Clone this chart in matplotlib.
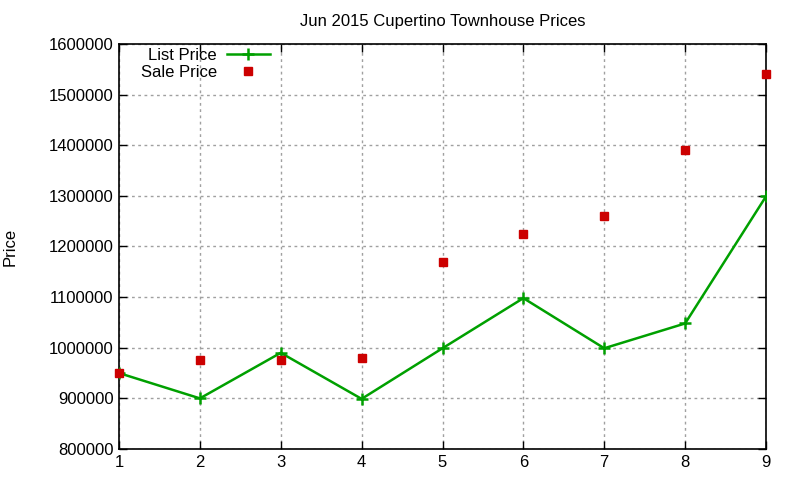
import matplotlib
matplotlib.use("Agg")
import matplotlib.pyplot as plt
from matplotlib.ticker import FixedLocator

months = [1, 2, 3, 4, 5, 6, 7, 8, 9]
list_price = [950000, 900000, 990000, 899000, 999000, 1098000, 999000, 1048000, 1299000]
sale_price = [950000, 975000, 975000, 980000, 1170000, 1225000, 1260000, 1390000, 1540000]
yticks = [800000, 900000, 1000000, 1100000, 1200000, 1300000, 1400000, 1500000, 1600000]

plt.rcParams['font.family'] = ['Liberation Sans', 'DejaVu Sans']

fig = plt.figure(figsize=(8, 4.8), dpi=100)
ax = fig.add_axes([119/800, 1 - 449/480, (766-119)/800, (449-44)/480])

ax.plot(months, list_price, color='#00a000', lw=1.8, marker='+', ms=8, mew=1.8,
        label='List Price', zorder=3)
ax.plot(months, sale_price, ls='none', color='#cc0000', marker='s', ms=6,
        label='Sale Price', zorder=4, clip_on=False)

ax.set_xlim(1, 9)
ax.set_ylim(800000, 1600000)
ax.xaxis.set_major_locator(FixedLocator(months))
ax.yaxis.set_major_locator(FixedLocator(yticks))
ax.set_yticklabels([str(v) for v in yticks])
ax.set_xticklabels([str(m) for m in months])
ax.tick_params(direction='in', length=6, width=1, top=True, right=True,
               labelsize=12, colors='black', pad=4)
ax.grid(True, color='#a0a0a0', ls=(0, (2, 2.5)), lw=1)
for s in ax.spines.values():
    s.set_linewidth(1.2)

ax.set_title('Jun 2015 Cupertino Townhouse Prices', fontsize=12, pad=13)
ax.set_ylabel('Price', fontsize=12, labelpad=22)

leg = ax.legend(loc='upper left', bbox_to_anchor=(0.018, 1.015), markerfirst=False,
                frameon=False, fontsize=12, handlelength=2.6, borderaxespad=0.2,
                labelspacing=0.12, handletextpad=0.6)

fig.savefig('out.png', dpi=100)
